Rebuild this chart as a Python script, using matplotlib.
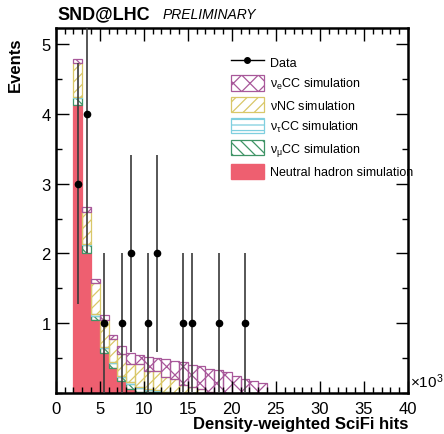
import numpy as np
import matplotlib
matplotlib.use("Agg")
import matplotlib.pyplot as plt
from matplotlib.patches import Patch
from matplotlib.lines import Line2D
from matplotlib.ticker import MultipleLocator

plt.rcParams['font.family'] = ['Liberation Sans', 'DejaVu Sans']
plt.rcParams['mathtext.fontset'] = 'custom'
plt.rcParams['mathtext.rm'] = 'Liberation Sans'
plt.rcParams['mathtext.it'] = 'Liberation Sans'
plt.rcParams['hatch.linewidth'] = 0.9

# bins of width 1 (x10^3 hits), lower edges 2 .. 23
bin_lo = np.arange(2, 24)

neutral_hadron = [4.12, 2.00, 1.04, 0.57, 0.36, 0.17, 0.05, 0.02, 0.01, 0.01, 0,
                  0, 0, 0, 0, 0, 0, 0, 0, 0, 0, 0]
numu_cc = [0.10, 0.12, 0.07, 0.08, 0.07, 0.06, 0.08, 0.05, 0.03, 0.02, 0.01,
           0, 0, 0, 0, 0, 0, 0, 0, 0, 0, 0]
nutau_cc = [0.02, 0.02, 0.02, 0.01, 0.02, 0.02, 0.03, 0.02, 0.01, 0.01, 0.01,
            0, 0, 0, 0, 0, 0, 0, 0, 0, 0, 0]
nc = [0.49, 0.46, 0.44, 0.39, 0.33, 0.31, 0.26, 0.33, 0.27, 0.28, 0.21,
      0.20, 0.12, 0.08, 0.05, 0.02, 0, 0, 0, 0, 0, 0]
nue_cc = [0.06, 0.07, 0.06, 0.07, 0.05, 0.12, 0.16, 0.12, 0.20, 0.18, 0.25,
          0.26, 0.32, 0.32, 0.33, 0.32, 0.33, 0.30, 0.25, 0.20, 0.17, 0.15]

data_x = [2.5, 3.5, 5.5, 7.5, 8.5, 10.5, 11.5, 14.5, 15.5, 18.5, 21.5]
data_y = [3, 4, 1, 1, 2, 1, 2, 1, 1, 1, 1]

c_nh = '#ee5f70'
c_numu = '#3f9466'
c_nutau = '#7fcfdf'
c_nc = '#d9c768'
c_nue = '#a8589a'

fig = plt.figure(figsize=(4.44, 4.35), dpi=100)
ax = fig.add_axes([0.1255, 0.0943, 0.7935, 0.839])

# stacked histogram
layers = [
    (neutral_hadron, dict(facecolor=c_nh, edgecolor=c_nh)),
    (numu_cc, dict(facecolor='none', edgecolor=c_numu, hatch='\\\\\\')),
    (nutau_cc, dict(facecolor='none', edgecolor=c_nutau, hatch='---')),
    (nc, dict(facecolor='none', edgecolor=c_nc, hatch='///')),
    (nue_cc, dict(facecolor='none', edgecolor=c_nue, hatch='xx')),
]
bottom = np.zeros(len(bin_lo))
for vals, style in layers:
    vals = np.array(vals, dtype=float)
    ax.bar(bin_lo, vals, width=1.0, bottom=bottom, align='edge', linewidth=0.9, **style)
    bottom = bottom + vals

# data with sqrt(N) errors
yerr = np.sqrt(data_y)
ax.errorbar(data_x, data_y, yerr=yerr, fmt='o', color='black', ecolor='#3a3a3a',
            elinewidth=1.2, markersize=4.5, capsize=0, zorder=5)

ax.set_xlim(0, 40)
ax.set_ylim(0, 5.23)
ax.xaxis.set_major_locator(MultipleLocator(5))
ax.xaxis.set_minor_locator(MultipleLocator(1))
ax.yaxis.set_major_locator(MultipleLocator(1))
ax.yaxis.set_minor_locator(MultipleLocator(0.5))
ax.set_yticks([1, 2, 3, 4, 5])
ax.tick_params(which='both', direction='in', top=True, right=True, labelsize=12)
ax.tick_params(which='major', length=9, width=1)
ax.tick_params(which='minor', length=4.5, width=1)
ax.tick_params(axis='x', pad=6)
for s in ax.spines.values():
    s.set_linewidth(1.8)

# legend
handles = [
    Line2D([0], [0], color='black', marker='o', markersize=4, lw=1),
    Patch(facecolor='white', edgecolor=c_nue, hatch='xx', linewidth=0.9),
    Patch(facecolor='white', edgecolor=c_nc, hatch='///', linewidth=0.9),
    Patch(facecolor='white', edgecolor=c_nutau, hatch='---', linewidth=0.9),
    Patch(facecolor='white', edgecolor=c_numu, hatch='\\\\\\', linewidth=0.9),
    Patch(facecolor=c_nh, edgecolor=c_nh),
]
labels = [
    'Data',
    r'$\nu_e$CC simulation',
    r'$\nu$NC simulation',
    r'$\nu_\tau$CC simulation',
    r'$\nu_\mu$CC simulation',
    'Neutral hadron simulation',
]
ax.legend(handles, labels, loc='upper left', bbox_to_anchor=(0.483, 0.942),
          frameon=False, fontsize=9, handlelength=2.65, handleheight=1.5,
          handletextpad=0.5, labelspacing=0.47, borderaxespad=0)

fig.text(57 / 444, 1 - 15 / 435, 'SND@LHC', fontsize=13, fontweight='bold',
         ha='left', va='center')
fig.text(163 / 444, 1 - 15 / 435, 'PRELIMINARY', fontsize=10, style='italic',
         ha='left', va='center')
fig.text(15 / 444, 1 - 38 / 435, 'Events', rotation=90, fontsize=12,
         fontweight='bold', ha='center', va='top')
fig.text(408 / 444, 1 - 425 / 435, 'Density-weighted SciFi hits', fontsize=12,
         fontweight='bold', ha='right', va='center')
fig.text(410 / 444, 1 - 382 / 435, r'$\times$10$^{3}$', fontsize=11,
         ha='left', va='center')

fig.savefig('out.png', dpi=100)
